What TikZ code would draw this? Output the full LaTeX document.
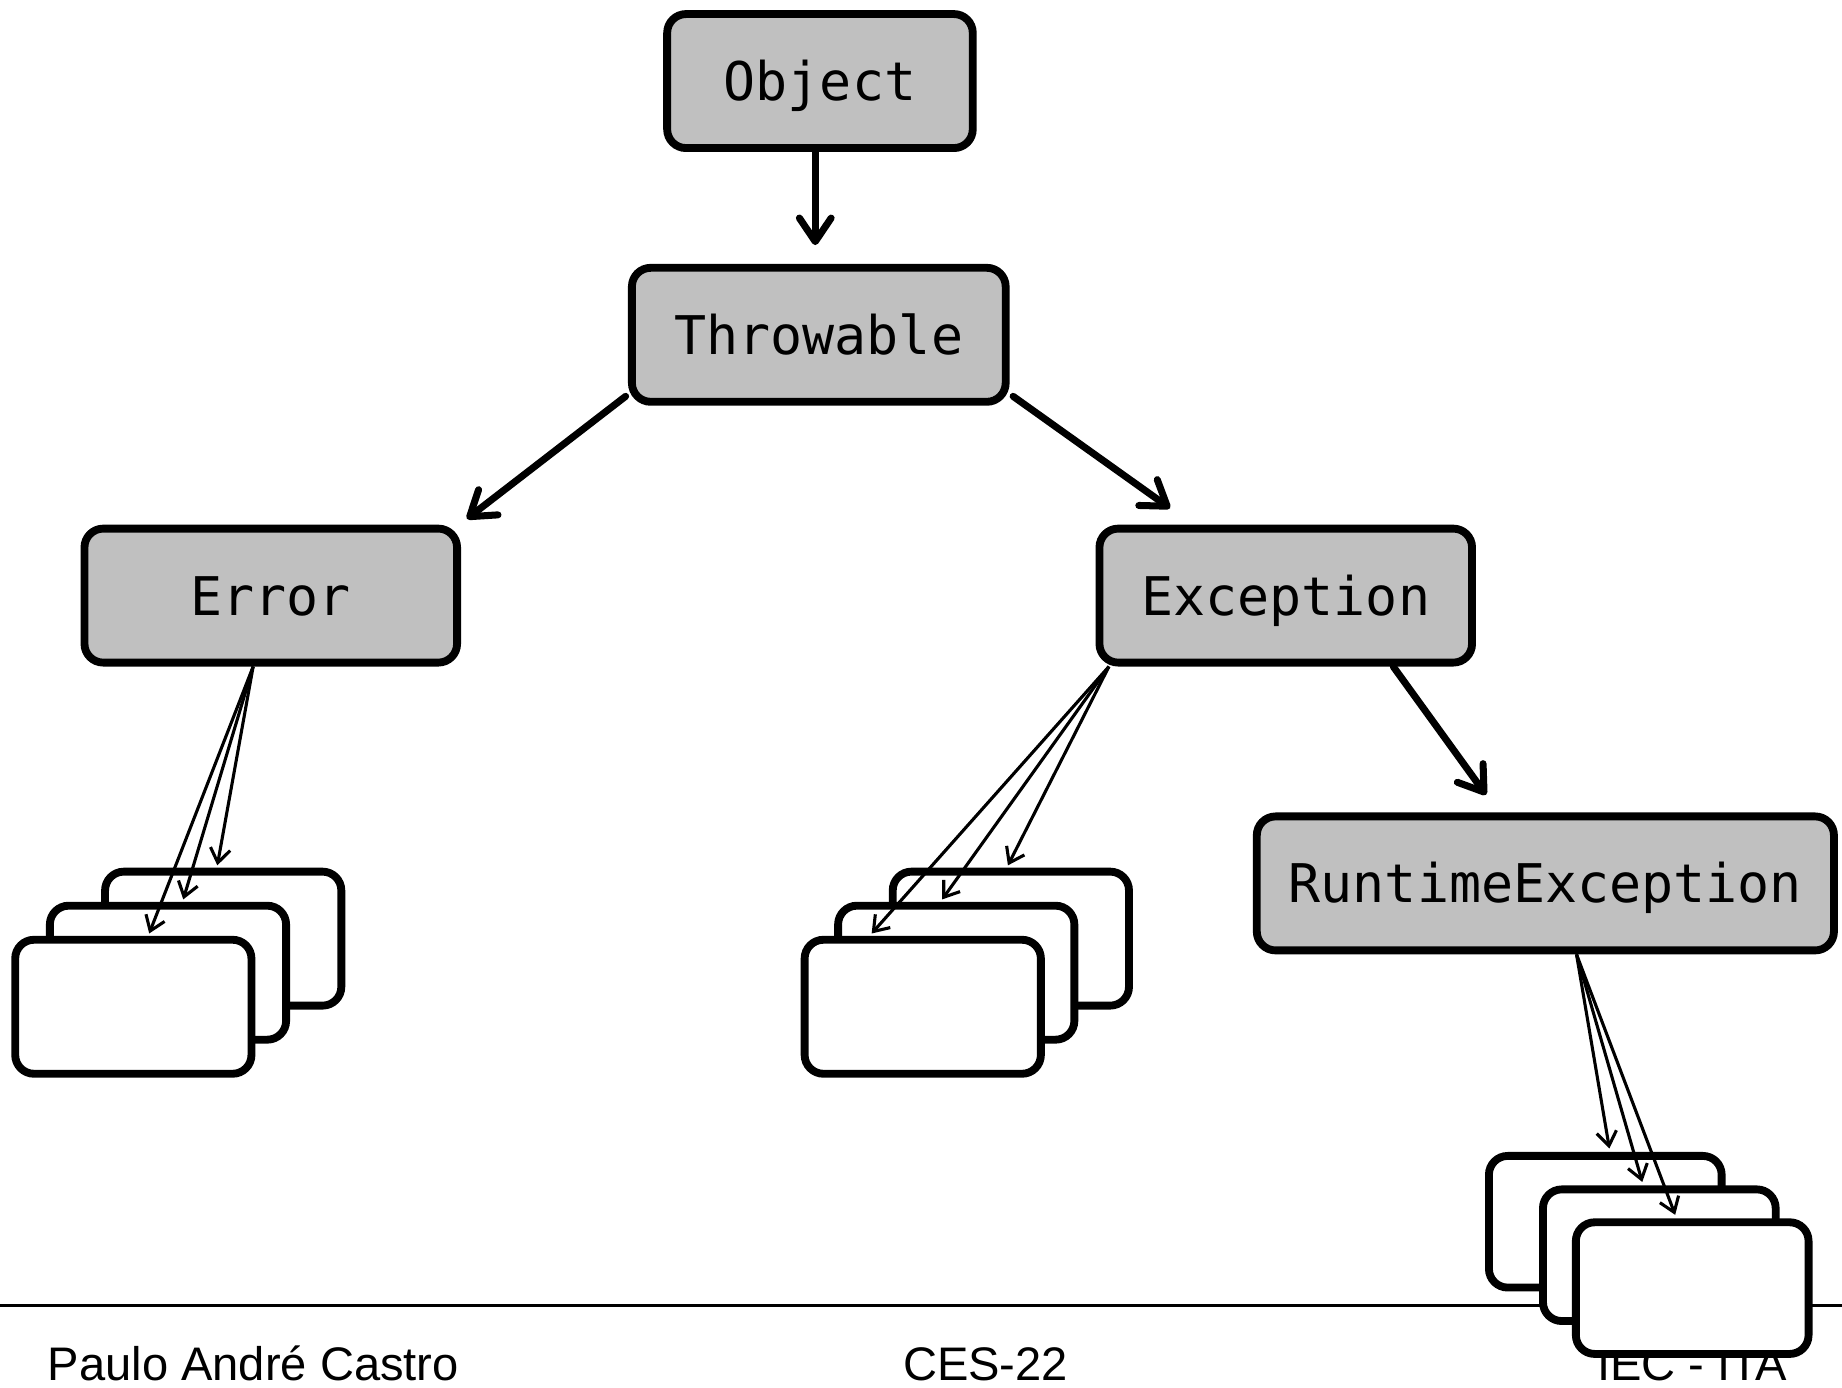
\documentclass[tikz,border=0pt]{standalone}
\usepackage{fontspec}
\setmonofont{DejaVu Sans Mono}
\newfontfamily\footfont{Liberation Sans}
\usetikzlibrary{arrows.meta}
\definecolor{clsgray}{RGB}{192,192,192}
\begin{document}
\begin{tikzpicture}[x=0.01cm, y=-0.01cm,
  cls/.style={draw, line width=1.9pt, fill=clsgray, rounded corners=0.16cm,
    minimum width=#1, minimum height=1.14cm, inner sep=0pt,
    font=\ttfamily\fontsize{12.9}{15}\selectfont, text height=9.4pt, text depth=0pt},
  sub/.style={draw, line width=1.9pt, fill=white, rounded corners=0.16cm,
    minimum width=2.01cm, minimum height=1.14cm, inner sep=0pt},
  rsub/.style={sub, minimum width=1.98cm, minimum height=1.12cm},
  bigarrow/.style={line width=1.7pt, line cap=round,
    -{Straight Barb[length=0.2cm,width=0.27cm,round]}},
  thinarrow/.style={line width=0.75pt, -{Straight Barb[length=0.12cm,width=0.17cm]}},
  foot/.style={font=\footfont\fontsize{11.4}{13}\selectfont, inner sep=0pt}]
\useasboundingbox (0,0) rectangle (1568,1181);

% footer
\draw[line width=0.7pt] (0,1111) -- (1568,1111);
\node[foot, anchor=base west] (author) at (40,1175) {Paulo André Castro};
\node[foot, anchor=base west] (course) at (768,1175) {CES-22};
\node[foot, anchor=base east] (inst) at (1522,1175) {IEC - ITA};

% class hierarchy
\node[cls=2.60cm] (obj) at (698,69) {Object};
\node[cls=3.18cm] (thr) at (697,285) {Throwable};
\node[cls=3.17cm] (err) at (230.5,507) {Error};
\node[cls=3.17cm] (exc) at (1094.5,507) {Exception};
\node[cls=4.91cm] (rt) at (1315.5,752) {RuntimeException};

% subclasses of Error
\node[sub] (eb) at (190,799) {};
\node[sub] (em) at (143,828) {};
\node[sub] (ef) at (113.5,857) {};

% subclasses of Exception
\node[sub] (xb) at (860.5,799) {};
\node[sub] (xm) at (814,828) {};
\node[sub] (xf) at (785.5,857) {};

% subclasses of RuntimeException
\node[rsub] (rb) at (1366.5,1040) {};
\node[rsub] (rm) at (1412.5,1068.5) {};
\node[rsub] (rf) at (1440.5,1096.5) {};

% inheritance arrows
\draw[bigarrow] ([shift={(-4,0)}]obj.south) -- ([shift={(-3,-16)}]thr.north);
\draw[bigarrow] ([shift={(-2,-8)}]thr.south west) -- ([shift={(5,-5)}]err.north east);
\draw[bigarrow] ([shift={(3,-8)}]thr.south east) -- ([shift={(-98.5,-14)}]exc.north);
\draw[bigarrow] ([shift={(91.5,0)}]exc.south) -- ([shift={(-50.5,-15)}]rt.north);

\draw[thinarrow] ([shift={(-15,0)}]err.south) -- ([shift={(-5,-2)}]eb.north);
\draw[thinarrow] ([shift={(-15,0)}]err.south) -- ([shift={(13,-2)}]em.north);
\draw[thinarrow] ([shift={(-15,0)}]err.south) -- ([shift={(13.5,-2)}]ef.north);

\draw[thinarrow] ([shift={(-150.5,0)}]exc.south) -- ([shift={(-2.5,-2)}]xb.north);
\draw[thinarrow] ([shift={(-150.5,0)}]exc.south) -- ([shift={(-12,-2)}]xm.north);
\draw[thinarrow] ([shift={(-150.5,0)}]exc.south) -- ([shift={(-43.5,-2)}]xf.north);

\draw[thinarrow] ([shift={(26.5,0)}]rt.south) -- ([shift={(3.5,-3)}]rb.north);
\draw[thinarrow] ([shift={(26.5,0)}]rt.south) -- ([shift={(-14.5,-3)}]rm.north);
\draw[thinarrow] ([shift={(26.5,0)}]rt.south) -- ([shift={(-14.5,-3)}]rf.north);
\end{tikzpicture}
\end{document}
